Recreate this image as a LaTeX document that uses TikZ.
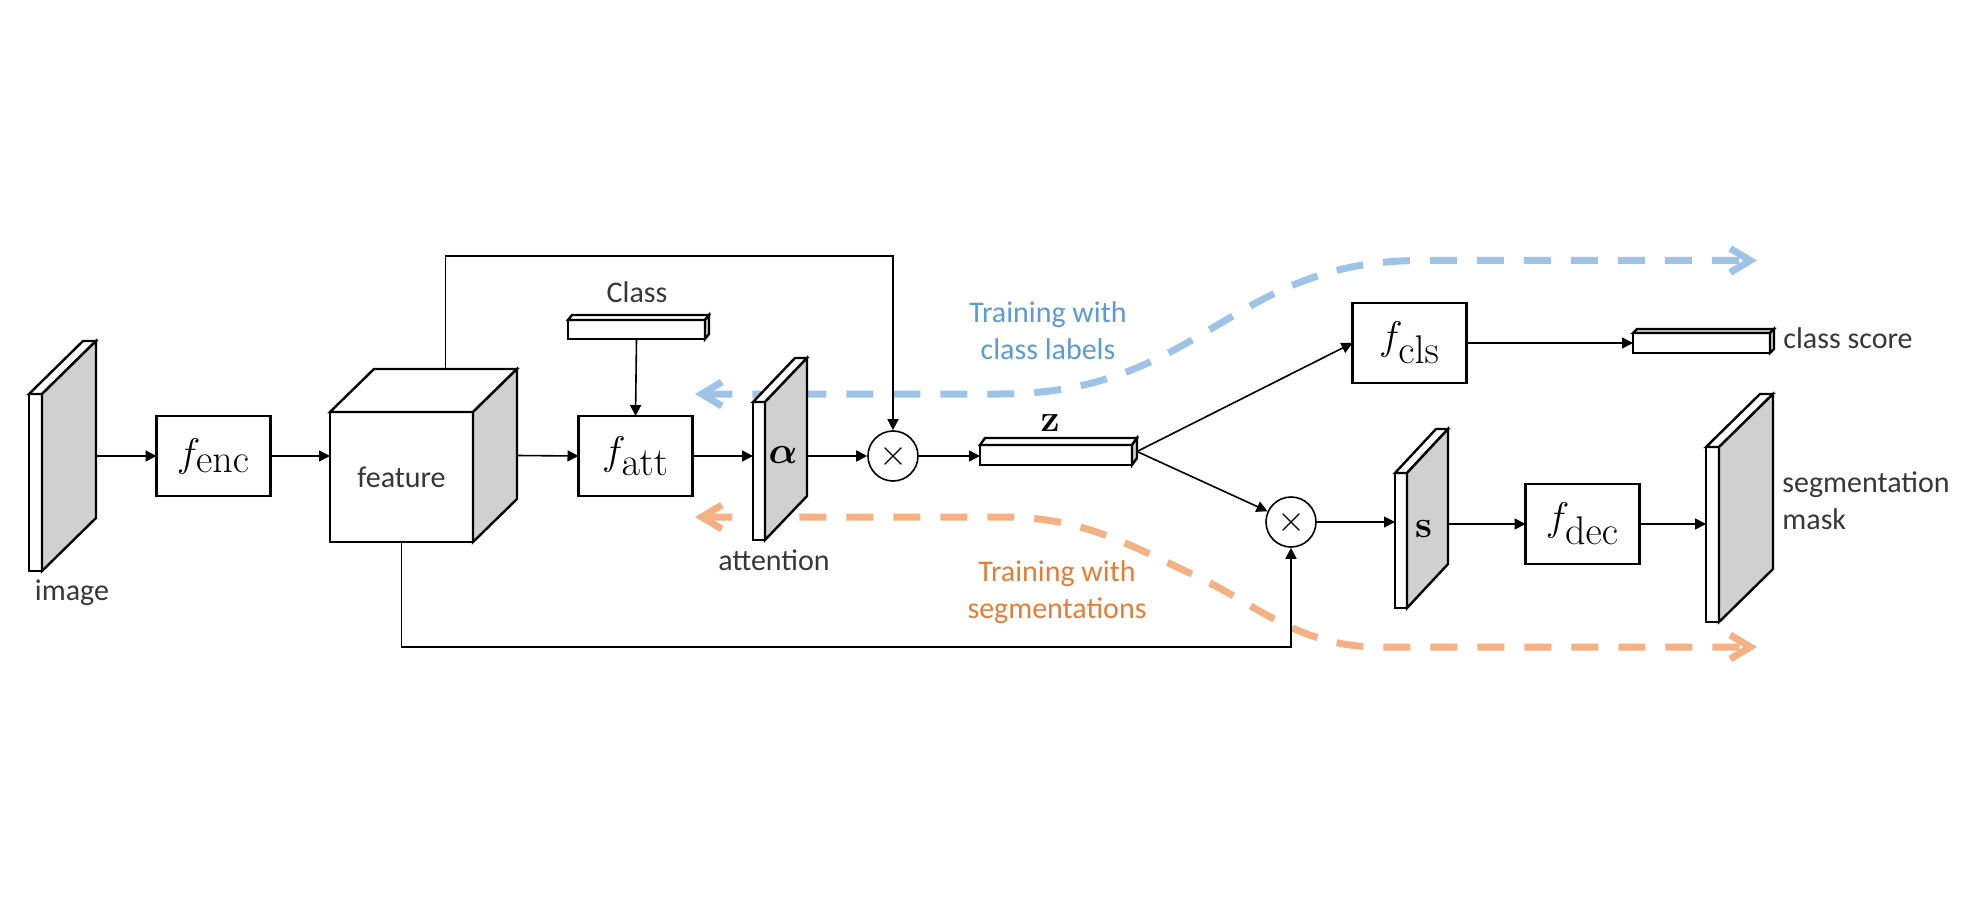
\RequirePackage{fix-cm}
\documentclass[tikz,border=0pt]{standalone}
\usepackage{amsmath}
\usepackage[no-math]{fontspec}
\setmainfont{Carlito}
\usetikzlibrary{positioning,calc,arrows.meta}

\definecolor{sidegray}{RGB}{208,208,208}
\definecolor{inkgray}{RGB}{55,55,55}
\definecolor{clsblue}{RGB}{157,195,230}
\definecolor{clstext}{RGB}{91,155,213}
\definecolor{segorange}{RGB}{244,177,131}
\definecolor{segtext}{RGB}{230,125,55}

% f with a big subscript, as in the boxes
\newcommand{\funclbl}[1]{$f_{\textstyle\mathrm{#1}}$}
% top and side faces of a block whose front face is node #1
\newcommand{\slab}[4]{%
  \filldraw[line width=1.2pt, fill=#4] (#1.north west) -- ++(#2,#3) -- ($(#1.north east)+(#2,#3)$) -- (#1.north east) -- cycle;
  \filldraw[line width=1.2pt, fill=sidegray] (#1.north east) -- ++(#2,#3) -- ($(#1.south east)+(#2,#3)$) -- (#1.south east) -- cycle;
  \coordinate (#1-r) at ($(#1.east)+(#2,#3/2)$);
  \coordinate (#1-t) at ($(#1.north)+(#2,#3)$);
}

\begin{document}
\begin{tikzpicture}[x=0.5pt, y=-0.5pt,
  every node/.style={font=\fontsize{15}{18.5}\selectfont},
  front/.style={draw, fill=white, line width=1.2pt, inner sep=0pt, outer sep=0pt, text=inkgray},
  func/.style={front, minimum width=57pt, minimum height=40pt, text=black, font=\fontsize{20}{24}\selectfont},
  mult/.style={draw, circle, fill=white, line width=0.8pt, minimum size=25pt, inner sep=0pt, font=\fontsize{18}{20}\selectfont},
  lbl/.style={inner sep=0pt, text=inkgray},
  vec/.style={inner sep=0pt, font=\fontsize{19}{22}\selectfont},
  link/.style={line width=0.8pt, -{Triangle[length=5.5pt,width=5.5pt]}},
  train/.style={line width=3.5pt, dash pattern=on 13.5pt off 10pt,
    {Straight Barb[length=10pt,width=12pt]}-{Straight Barb[length=10pt,width=12pt]}}]
	\useasboundingbox (0,0) rectangle (1985,909);

	% training signals, behind everything
	\coordinate (clsA) at (695,394);
	\coordinate (clsB) at (1757,260.5);
	\coordinate (segA) at (695,517);
	\coordinate (segB) at (1757,647);
	\draw [train, clsblue] (clsA) -- (1000,394) .. controls (1200,394) and (1230,260.5) .. (1420,260.5) -- (clsB);
	\draw [train, segorange] (segA) -- (1000,517) .. controls (1080,517) and (1120,540) .. (1200,578)
		.. controls (1260,607) and (1300,647) .. (1380,647) -- (segB);
	\node (clsnote) [lbl, text=clstext, align=center] at (1048,331) {Training with\\class labels};
	\node (segnote) [lbl, text=segtext, align=center] at (1057,592) {Training with\\segmentations};

	% blocks
	\node (img) [front, minimum width=6.5pt, minimum height=88.5pt] at (35.5,482.5) {};
	\slab{img}{54}{-53}{white}
	\node (imgname) [lbl] at (72,593) {image};

	\node (fenc) [func] at (213.5,456) {\funclbl{enc}};

	\node (feat) [front, minimum width=71.5pt, minimum height=65pt] at (401.5,477) {feature};
	\slab{feat}{44}{-43}{white}

	\node (cls) [front, minimum width=68.5pt, minimum height=9.5pt] at (636.5,329.5) {};
	\slab{cls}{4}{-5}{white}
	\node (clsname) [lbl] at (637,292) {Class};

	\node (fatt) [func] at (635.5,456) {\funclbl{att}};

	\node (alpha) [front, minimum width=6pt, minimum height=69pt] at (759,471) {};
	\slab{alpha}{42}{-44}{white}
	\node (alphaname) [vec] at (783,455) {$\boldsymbol{\alpha}$};
	\node (attname) [lbl] at (774,560) {attention};

	\node (m1) [mult] at (893,456) {$\times$};

	\node (z) [front, minimum width=76pt, minimum height=10pt] at (1056,455) {};
	\slab{z}{5}{-7}{white}
	\node (zname) [vec] at (1050,423) {$\mathbf{z}$};

	\node (fcls) [func] at (1409.5,343) {\funclbl{cls}};
	\node (cs) [front, minimum width=68.5pt, minimum height=10pt] at (1701.5,343) {};
	\slab{cs}{4}{-4}{sidegray}
	\node (csname) [lbl, anchor=west] at (1783,338) {class score};

	\node (m2) [mult] at (1291,522) {$\times$};

	\node (s) [front, minimum width=6pt, minimum height=67.5pt] at (1401,540.5) {};
	\slab{s}{41}{-44}{white}
	\node (sname) [vec] at (1423.5,529.5) {$\mathbf{s}$};

	\node (fdec) [func] at (1582.5,524) {\funclbl{dec}};

	\node (seg) [front, minimum width=6.5pt, minimum height=87.5pt] at (1712.5,534.5) {};
	\slab{seg}{54}{-53}{white}
	\node (segname) [lbl, anchor=west, align=left] at (1782,501) {segmentation\\mask};

	% connectors
	\draw [link] (img-r) -- (fenc.west);
	\draw [link] (fenc.east) -- (fenc.east -| feat.west);
	\draw [link] (feat-r) -- (fatt.west);
	\draw [link] (cls.south) -- (fatt.north);
	\draw [link] (fatt.east) -- (fatt.east -| alpha.west);
	\draw [link] (m1.west -| alpha-r) -- (m1.west);
	\draw [link] (feat-t) -- ++(0,-113) -| (m1.north);
	\draw [link] (m1.east) -- (m1.east -| z.west);
	\draw [link] (z-r) -- (fcls.west);
	\draw [link] (z-r) -- (m2);
	\draw [link] (fcls.east) -- (fcls.east -| cs.west);
	\draw [link] (feat.south) -- ++(0,105) -| (m2.south);
	\draw [link] (m2.east) -- (m2.east -| s.west);
	\draw [link] (fdec.west -| s-r) -- (fdec.west);
	\draw [link] (fdec.east) -- (fdec.east -| seg.west);
\end{tikzpicture}
\end{document}
